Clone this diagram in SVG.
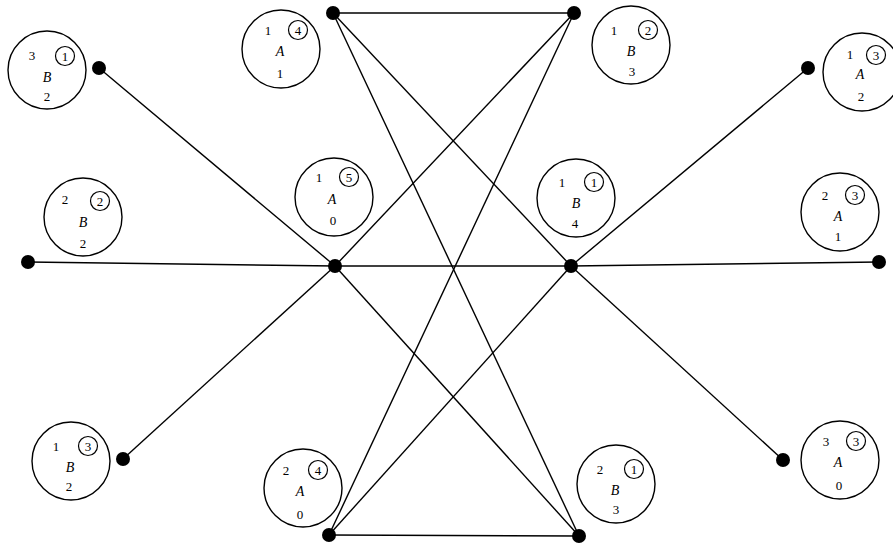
<svg xmlns="http://www.w3.org/2000/svg" width="893" height="546" viewBox="0 0 893 546">
<style>
.big{fill:none;stroke:#000;stroke-width:1.4}
.sm{fill:none;stroke:#000;stroke-width:1.2}
.t{font-family:"Liberation Serif",serif;font-size:13px;fill:#000;text-anchor:middle}
.l{font-style:italic;font-size:14px}
.e{stroke:#000;stroke-width:1.4;fill:none}
.d{fill:#000}
</style>
<rect width="893" height="546" fill="#fff"/>
<g id="connectors">
<line class="e" x1="99" y1="68" x2="335" y2="266"/>
<line class="e" x1="28" y1="262" x2="335" y2="266"/>
<line class="e" x1="123" y1="459" x2="335" y2="266"/>
<line class="e" x1="335" y1="266" x2="571" y2="266"/>
<line class="e" x1="335" y1="266" x2="574" y2="13"/>
<line class="e" x1="335" y1="266" x2="579" y2="536"/>
<line class="e" x1="333" y1="13" x2="574" y2="13"/>
<line class="e" x1="333" y1="13" x2="571" y2="266"/>
<line class="e" x1="333" y1="13" x2="579" y2="536"/>
<line class="e" x1="574" y1="13" x2="329" y2="535"/>
<line class="e" x1="571" y1="266" x2="329" y2="535"/>
<line class="e" x1="571" y1="266" x2="808" y2="68"/>
<line class="e" x1="571" y1="266" x2="879" y2="262"/>
<line class="e" x1="571" y1="266" x2="783" y2="460"/>
<line class="e" x1="329" y1="535" x2="579" y2="536"/>
</g>
<g id="dots">
<circle class="d" cx="99" cy="68" r="7"/>
<circle class="d" cx="333" cy="13" r="7"/>
<circle class="d" cx="574" cy="13" r="7"/>
<circle class="d" cx="808" cy="68" r="7"/>
<circle class="d" cx="28" cy="262" r="7"/>
<circle class="d" cx="335" cy="266" r="7"/>
<circle class="d" cx="571" cy="266" r="7"/>
<circle class="d" cx="879" cy="262" r="7"/>
<circle class="d" cx="123" cy="459" r="7"/>
<circle class="d" cx="783" cy="460" r="7"/>
<circle class="d" cx="329" cy="535" r="7"/>
<circle class="d" cx="579" cy="536" r="7"/>
</g>
<g id="n1">
<circle class="big" cx="47" cy="70" r="39"/>
<text class="t" x="32" y="60">3</text>
<circle class="sm" cx="65" cy="56" r="9.5"/>
<text class="t" x="65" y="60.5">1</text>
<text class="t l" x="47" y="82">B</text>
<text class="t" x="47" y="101">2</text>
</g>
<g id="n2">
<circle class="big" cx="281" cy="49" r="39"/>
<text class="t" x="268" y="35">1</text>
<circle class="sm" cx="298" cy="30" r="9.5"/>
<text class="t" x="298" y="34.5">4</text>
<text class="t l" x="280" y="56">A</text>
<text class="t" x="280" y="78">1</text>
</g>
<g id="n3">
<circle class="big" cx="631" cy="45" r="39"/>
<text class="t" x="614" y="35">1</text>
<circle class="sm" cx="648" cy="30" r="9.5"/>
<text class="t" x="648" y="34.5">2</text>
<text class="t l" x="631" y="56">B</text>
<text class="t" x="632" y="76">3</text>
</g>
<g id="n4">
<circle class="big" cx="862" cy="72" r="39"/>
<text class="t" x="850" y="59">1</text>
<circle class="sm" cx="876" cy="55" r="9.5"/>
<text class="t" x="876" y="59.5">3</text>
<text class="t l" x="860" y="79">A</text>
<text class="t" x="861" y="101">2</text>
</g>
<g id="n5">
<circle class="big" cx="83" cy="217" r="39"/>
<text class="t" x="65" y="204">2</text>
<circle class="sm" cx="100" cy="201" r="9.5"/>
<text class="t" x="100" y="205.5">2</text>
<text class="t l" x="83" y="227">B</text>
<text class="t" x="83" y="248">2</text>
</g>
<g id="n6">
<circle class="big" cx="334" cy="197" r="39"/>
<text class="t" x="319" y="182">1</text>
<circle class="sm" cx="349" cy="177" r="9.5"/>
<text class="t" x="349" y="181.5">5</text>
<text class="t l" x="332" y="204">A</text>
<text class="t" x="333" y="225">0</text>
</g>
<g id="n7">
<circle class="big" cx="576" cy="198" r="39"/>
<text class="t" x="562" y="187">1</text>
<circle class="sm" cx="594" cy="182" r="9.5"/>
<text class="t" x="594" y="186.5">1</text>
<text class="t l" x="576" y="208">B</text>
<text class="t" x="575" y="228">4</text>
</g>
<g id="n8">
<circle class="big" cx="840" cy="212" r="39"/>
<text class="t" x="825" y="200">2</text>
<circle class="sm" cx="855" cy="195" r="9.5"/>
<text class="t" x="855" y="199.5">3</text>
<text class="t l" x="838" y="221">A</text>
<text class="t" x="838" y="241">1</text>
</g>
<g id="n9">
<circle class="big" cx="71" cy="461" r="39"/>
<text class="t" x="56" y="451">1</text>
<circle class="sm" cx="88" cy="446" r="9.5"/>
<text class="t" x="88" y="450.5">3</text>
<text class="t l" x="70" y="472">B</text>
<text class="t" x="69" y="491">2</text>
</g>
<g id="n10">
<circle class="big" cx="303" cy="488" r="39"/>
<text class="t" x="286" y="475">2</text>
<circle class="sm" cx="318" cy="470" r="9.5"/>
<text class="t" x="318" y="474.5">4</text>
<text class="t l" x="300" y="496">A</text>
<text class="t" x="300" y="519">0</text>
</g>
<g id="n11">
<circle class="big" cx="616" cy="484" r="39"/>
<text class="t" x="600" y="474">2</text>
<circle class="sm" cx="634" cy="469" r="9.5"/>
<text class="t" x="634" y="473.5">1</text>
<text class="t l" x="615" y="495">B</text>
<text class="t" x="616" y="514">3</text>
</g>
<g id="n12">
<circle class="big" cx="840" cy="460" r="39"/>
<text class="t" x="826" y="446">3</text>
<circle class="sm" cx="856" cy="441" r="9.5"/>
<text class="t" x="856" y="445.5">3</text>
<text class="t l" x="838" y="467">A</text>
<text class="t" x="839" y="490">0</text>
</g>
</svg>
